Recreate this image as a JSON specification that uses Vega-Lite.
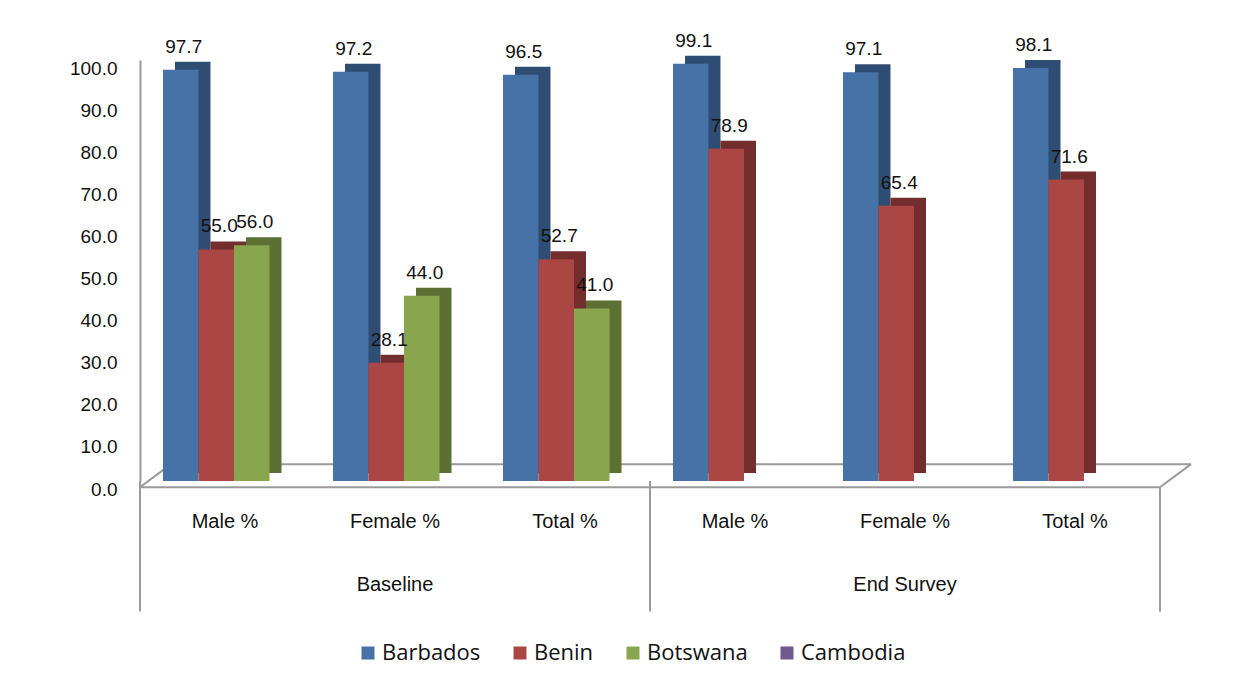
{
  "$schema": "https://vega.github.io/schema/vega-lite/v6.json",
  "width": 1020,
  "height": 421,
  "autosize": {"type": "none"},
  "padding": {"left": 140, "top": 60, "right": 91, "bottom": 211},
  "background": "white",
  "config": {
    "view": {"stroke": null},
    "font": "Liberation Sans",
    "text": {"font": "Liberation Sans", "color": "#111111"}
  },
  "datasets": {
    "rates": [
      {"slot": "Baseline|Male %", "country": "Barbados", "value": 97.7},
      {"slot": "Baseline|Male %", "country": "Benin", "value": 55.0},
      {"slot": "Baseline|Male %", "country": "Botswana", "value": 56.0},
      {"slot": "Baseline|Female %", "country": "Barbados", "value": 97.2},
      {"slot": "Baseline|Female %", "country": "Benin", "value": 28.1},
      {"slot": "Baseline|Female %", "country": "Botswana", "value": 44.0},
      {"slot": "Baseline|Total %", "country": "Barbados", "value": 96.5},
      {"slot": "Baseline|Total %", "country": "Benin", "value": 52.7},
      {"slot": "Baseline|Total %", "country": "Botswana", "value": 41.0},
      {"slot": "End Survey|Male %", "country": "Barbados", "value": 99.1},
      {"slot": "End Survey|Male %", "country": "Benin", "value": 78.9},
      {"slot": "End Survey|Female %", "country": "Barbados", "value": 97.1},
      {"slot": "End Survey|Female %", "country": "Benin", "value": 65.4},
      {"slot": "End Survey|Total %", "country": "Barbados", "value": 98.1},
      {"slot": "End Survey|Total %", "country": "Benin", "value": 71.6}
    ],
    "groups": [
      {"survey": "Baseline", "slot": "Baseline|Female %"},
      {"survey": "End Survey", "slot": "End Survey|Female %"}
    ],
    "floor": [
      {"first": "Baseline|Male %", "last": "End Survey|Total %"}
    ],
    "groupStarts": [
      {"slot": "Baseline|Male %"},
      {"slot": "End Survey|Male %"}
    ]
  },
  "layer": [
    {
      "data": {"name": "rates"},
      "mark": {"type": "bar"},
      "encoding": {
        "x": {"field": "slot", "type": "nominal", "title": null,
              "scale": {"type": "band", "domain": ["Baseline|Male %", "Baseline|Female %", "Baseline|Total %", "End Survey|Male %", "End Survey|Female %", "End Survey|Total %"], "paddingInner": 0, "paddingOuter": 0},
              "axis": {"domain": false, "ticks": false, "labelPadding": 30, "labelFontSize": 20, "labelColor": "#111111", "labelAngle": 0,
                       "labelExpr": "split(datum.label, '|')[1]"}},
        "xOffset": {"field": "country", "type": "nominal",
                    "scale": {"domain": ["Barbados", "Benin", "Botswana"], "paddingInner": 0, "paddingOuter": 0.894, "align": 0.551}},
        "y": {"field": "value", "type": "quantitative", "title": null,
              "scale": {"domain": [0, 100], "nice": false},
              "axis": {"values": [0, 10, 20, 30, 40, 50, 60, 70, 80, 90, 100], "format": ".1f", "grid": false, "ticks": false,
                       "domainColor": "#9a9a9a", "domainWidth": 2, "labelFontSize": 19, "labelColor": "#111111",
                       "labelPadding": 23, "labelOffset": 8}},
        "opacity": {"value": 0},
        "color": {"value": "white"}
      }
    },
    {
      "data": {"name": "floor"},
      "mark": {"type": "rule", "color": "#9a9a9a", "strokeWidth": 2},
      "encoding": {
        "x": {"field": "first", "type": "nominal", "bandPosition": 0, "title": null},
        "x2": {"field": "last", "bandPosition": 1},
        "y": {"datum": -1.5, "type": "quantitative", "title": null}
      }
    },
    {
      "data": {"name": "floor"},
      "mark": {"type": "rule", "color": "#9a9a9a", "strokeWidth": 2, "xOffset": 31, "x2Offset": 31},
      "encoding": {
        "x": {"field": "first", "type": "nominal", "bandPosition": 0, "title": null},
        "x2": {"field": "last", "bandPosition": 1},
        "y": {"datum": 4, "type": "quantitative", "title": null}
      }
    },
    {
      "data": {"name": "floor"},
      "mark": {"type": "rule", "color": "#9a9a9a", "strokeWidth": 2, "x2Offset": 31},
      "encoding": {
        "x": {"field": "first", "type": "nominal", "bandPosition": 0, "title": null},
        "x2": {"field": "first", "bandPosition": 0},
        "y": {"datum": -1.5, "type": "quantitative", "title": null},
        "y2": {"datum": 4}
      }
    },
    {
      "data": {"name": "floor"},
      "mark": {"type": "rule", "color": "#9a9a9a", "strokeWidth": 2, "x2Offset": 31},
      "encoding": {
        "x": {"field": "last", "type": "nominal", "bandPosition": 1, "title": null},
        "x2": {"field": "last", "bandPosition": 1},
        "y": {"datum": -1.5, "type": "quantitative", "title": null},
        "y2": {"datum": 4}
      }
    },
    {
      "data": {"name": "groupStarts"},
      "mark": {"type": "rule", "color": "#9a9a9a", "strokeWidth": 2},
      "encoding": {
        "x": {"field": "slot", "type": "nominal", "bandPosition": 0, "title": null},
        "y": {"datum": 0, "type": "quantitative", "title": null},
        "y2": {"datum": -31}
      }
    },
    {
      "data": {"name": "floor"},
      "mark": {"type": "rule", "color": "#9a9a9a", "strokeWidth": 2},
      "encoding": {
        "x": {"field": "last", "type": "nominal", "bandPosition": 1, "title": null},
        "y": {"datum": -1.5, "type": "quantitative", "title": null},
        "y2": {"datum": -31}
      }
    },
    {
      "data": {"name": "groups"},
      "mark": {"type": "text", "fontSize": 20, "baseline": "middle"},
      "encoding": {
        "x": {"field": "slot", "type": "nominal", "title": null},
        "y": {"datum": -24.7, "type": "quantitative", "title": null},
        "text": {"field": "survey"}
      }
    },
    {
      "data": {"name": "rates"},
      "mark": {"type": "bar", "yOffset": -8, "y2Offset": -4},
      "encoding": {
        "x": {"field": "slot", "type": "nominal", "title": null},
        "xOffset": {"field": "country", "type": "nominal",
                    "scale": {"domain": ["Barbados", "Benin", "Botswana"], "paddingInner": 0, "paddingOuter": 0.894, "align": 0.551}},
        "y": {"field": "value", "type": "quantitative", "title": null},
        "color": {"field": "country", "type": "nominal", "legend": null,
                  "scale": {"domain": ["Barbados", "Benin", "Botswana", "Cambodia"], "range": ["#2f4d73", "#722d2c", "#5c7033", "#4d3b63"]}}
      }
    },
    {
      "data": {"name": "rates"},
      "mark": {"type": "bar"},
      "encoding": {
        "x": {"field": "slot", "type": "nominal", "title": null},
        "xOffset": {"field": "country", "type": "nominal",
                    "scale": {"domain": ["Barbados", "Benin", "Botswana"], "paddingInner": 0, "paddingOuter": 0.894, "align": 0.362}},
        "y": {"field": "value", "type": "quantitative", "title": null},
        "color": {"field": "country", "type": "nominal",
                  "scale": {"domain": ["Barbados", "Benin", "Botswana", "Cambodia"], "range": ["#4672a7", "#aa4643", "#89a54e", "#71588f"]},
                  "legend": {"title": null, "orient": "none", "direction": "horizontal", "legendX": 217, "legendY": 582,
                             "symbolType": "square", "symbolSize": 169, "symbolStrokeWidth": 0,
                             "labelFont": "Open Sans", "labelFontSize": 22, "labelColor": "#111111", "labelOffset": 3,
                             "columnPadding": 28, "padding": 0}}
      }
    },
    {
      "data": {"name": "rates"},
      "mark": {"type": "text", "dy": -23, "fontSize": 19, "baseline": "middle"},
      "encoding": {
        "x": {"field": "slot", "type": "nominal", "title": null},
        "xOffset": {"field": "country", "type": "nominal",
                    "scale": {"type": "band", "domain": ["Barbados", "Benin", "Botswana"], "paddingInner": 0, "paddingOuter": 0.894, "align": 0.409}},
        "y": {"field": "value", "type": "quantitative", "title": null},
        "text": {"field": "value", "type": "quantitative", "format": ".1f"}
      }
    }
  ],
  "resolve": {"scale": {"color": "independent", "xOffset": "independent"}}
}
